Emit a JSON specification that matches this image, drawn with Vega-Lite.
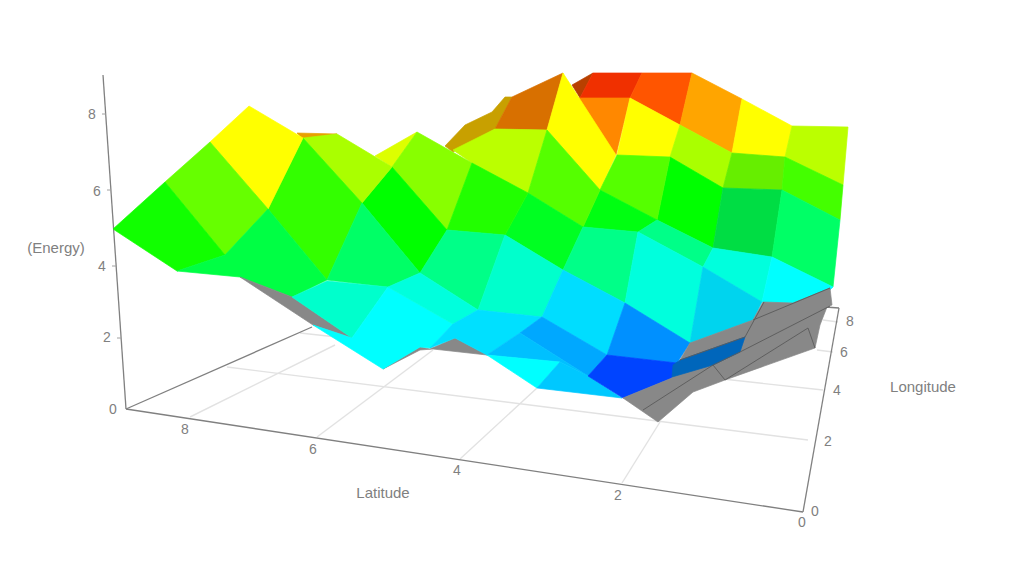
{"$schema":"https://vega.github.io/schema/vega-lite/v6.json","autosize":{"type":"fit","contains":"padding"},"width":1009,"height":565,"padding":0,"background":"white","config":{"view":{"stroke":null}},
"datasets":{
"grid":[
{"x":190,"y":417,"x2":335,"y2":345},
{"x":317,"y":437,"x2":433,"y2":350},
{"x":460,"y":459,"x2":537,"y2":388},
{"x":622,"y":483,"x2":660,"y2":422},
{"x":227,"y":367,"x2":808,"y2":440},
{"x":300,"y":333,"x2":823,"y2":390},
{"x":817,"y":350,"x2":833,"y2":352},
{"x":823,"y":320,"x2":838,"y2":322}
],
"axes":[
{"x":825,"y":307,"x2":839,"y2":308},
{"x":126,"y":409,"x2":803,"y2":512},
{"x":803,"y":512,"x2":839,"y2":308},
{"x":126,"y":409,"x2":312,"y2":327},
{"x":103,"y":75,"x2":126,"y2":409}
],
"ticks":[
{"x":102,"y":114,"x2":106,"y2":114},
{"x":107,"y":190,"x2":111,"y2":190},
{"x":112,"y":266,"x2":116,"y2":266},
{"x":117,"y":338,"x2":121,"y2":338}
],
"polys":[
{"id":"a01","c":"#e8a000","xs":[297,337,303],"ys":[133,134,139]},
{"id":"a02","c":"#c8a000","xs":[445,465,492,505,512,495,453],"ys":[146,125,112,97,97,129,152]},
{"id":"a03","c":"#d87000","xs":[495,512,563,547],"ys":[129,97,73,130]},
{"id":"a04","c":"#b84000","xs":[572,593,580],"ys":[85,73,98]},
{"id":"a05","c":"#f03000","xs":[593,642,630,580],"ys":[73,73,98,98]},
{"id":"a06","c":"#ff5500","xs":[642,692,680,630],"ys":[73,73,125,98]},
{"id":"a07","c":"#ffa500","xs":[692,742,732,680],"ys":[73,99,153,125]},
{"id":"a08","c":"#ff8800","xs":[575,630,616],"ys":[98,98,155]},
{"id":"a09","c":"#ffff00","xs":[563,616,600,547],"ys":[73,155,190,130]},
{"id":"a10","c":"#ffff00","xs":[630,680,670,617],"ys":[98,125,157,155]},
{"id":"a11","c":"#ffff00","xs":[742,792,785,732],"ys":[99,126,157,153]},
{"id":"a12","c":"#bbff00","xs":[792,848,843,785],"ys":[126,127,185,157]},
{"id":"a13","c":"#aaff00","xs":[680,732,723,670],"ys":[125,153,188,157]},
{"id":"a14","c":"#66ee00","xs":[732,785,782,723],"ys":[153,157,190,188]},
{"id":"a15","c":"#44ff00","xs":[785,843,840,782],"ys":[157,185,220,190]},
{"id":"a16","c":"#00ff00","xs":[670,723,713,657],"ys":[157,188,248,220]},
{"id":"a17","c":"#55ff00","xs":[617,670,657,600],"ys":[155,157,220,190]},
{"id":"a18","c":"#00ff11","xs":[600,657,638,583],"ys":[190,220,232,227]},
{"id":"a19","c":"#00dd44","xs":[723,782,772,713],"ys":[188,190,257,248]},
{"id":"a20","c":"#00ff66","xs":[782,840,833,772],"ys":[190,220,287,257]},
{"id":"b01","c":"#ddff00","xs":[375,417,392],"ys":[156,132,167]},
{"id":"b02","c":"#bbff00","xs":[453,495,547,528,472],"ys":[150,129,130,193,163]},
{"id":"b03","c":"#55ff00","xs":[528,547,600,583],"ys":[193,130,190,227]},
{"id":"b04","c":"#00ff22","xs":[528,583,563,505],"ys":[193,227,270,235]},
{"id":"b05","c":"#88ff00","xs":[392,417,472,447],"ys":[167,132,163,230]},
{"id":"b06","c":"#22ff00","xs":[472,528,505,447],"ys":[163,193,235,230]},
{"id":"b07","c":"#00ff00","xs":[362,392,447,420],"ys":[203,167,230,273]},
{"id":"b08","c":"#aaff00","xs":[303,337,392,362],"ys":[138,134,167,203]},
{"id":"b09","c":"#33ff00","xs":[303,362,327,268],"ys":[138,203,280,209]},
{"id":"b10","c":"#ffff00","xs":[210,249,303,268],"ys":[142,106,138,209]},
{"id":"b11","c":"#66ff00","xs":[165,210,268,225],"ys":[182,142,209,255]},
{"id":"b12","c":"#11ff00","xs":[113,165,225,177],"ys":[229,182,255,271]},
{"id":"b13","c":"#00ff44","xs":[177,225,268,327,292,240],"ys":[271,255,209,280,297,277]},
{"id":"c01","c":"#888888","xs":[240,292,352,313],"ys":[277,297,338,325]},
{"id":"c02","c":"#888888","xs":[383,420,430,455,487,433,420],"ys":[369,347,349,338,355,349,350]},
{"id":"d01","c":"#00ff66","xs":[362,420,388,327],"ys":[203,273,287,280]},
{"id":"d02","c":"#00ff88","xs":[447,505,478,420],"ys":[230,235,310,273]},
{"id":"d03","c":"#00ffcc","xs":[505,563,542,478],"ys":[235,270,317,310]},
{"id":"d04","c":"#00ff88","xs":[583,638,625,563],"ys":[227,232,303,270]},
{"id":"d05","c":"#00ff88","xs":[638,657,713,703],"ys":[232,220,248,267]},
{"id":"d06","c":"#00ffdd","xs":[638,703,690,625],"ys":[232,267,343,303]},
{"id":"d07","c":"#00ffdd","xs":[713,772,762,703],"ys":[248,257,302,267]},
{"id":"d08","c":"#00d4ee","xs":[703,762,753,690],"ys":[267,302,320,343]},
{"id":"d09","c":"#00ffff","xs":[772,833,830,793,762],"ys":[257,287,290,303,302]},
{"id":"d10","c":"#00ffcc","xs":[292,327,388,352],"ys":[297,281,287,338]},
{"id":"d11","c":"#00ffff","xs":[313,352,388,453,430,420,383],"ys":[325,338,287,324,348,347,369]},
{"id":"d12","c":"#00ffdd","xs":[388,420,478,453],"ys":[287,273,310,324]},
{"id":"d13","c":"#00ddff","xs":[563,625,607,542],"ys":[270,303,355,317]},
{"id":"d14","c":"#00e0ff","xs":[478,542,520,487,455,430,453],"ys":[310,317,333,355,338,348,324]},
{"id":"d15","c":"#00a8ff","xs":[542,607,588,520],"ys":[317,355,376,333]},
{"id":"d16","c":"#00c0ff","xs":[520,588,560,487],"ys":[333,376,362,355]},
{"id":"d17","c":"#00ffff","xs":[487,560,537],"ys":[355,362,388]},
{"id":"d18","c":"#00c8ff","xs":[560,588,622,537],"ys":[362,376,398,388]},
{"id":"d19","c":"#0090ff","xs":[625,690,677,607],"ys":[303,343,363,355]},
{"id":"d20","c":"#0044ff","xs":[607,677,672,623,588],"ys":[355,363,378,398,376]},
{"id":"e01","c":"#888888","xs":[623,672,680,690,753,763,793,830,832,827,820,815,725,693,658],"ys":[398,378,360,343,320,302,303,288,305,307,325,348,380,392,422]},
{"id":"e02","c":"#0066bb","xs":[673,680,745,740,713,672],"ys":[365,360,337,352,365,377]}
],
"edges":[
{"x":643,"y":410,"x2":713,"y2":365},
{"x":713,"y":365,"x2":740,"y2":352},
{"x":740,"y":352,"x2":830,"y2":306},
{"x":725,"y":380,"x2":808,"y2":328},
{"x":808,"y":328,"x2":815,"y2":348},
{"x":713,"y":365,"x2":725,"y2":380},
{"x":753,"y":320,"x2":830,"y2":288},
{"x":745,"y":337,"x2":764,"y2":302},
{"x":680,"y":360,"x2":745,"y2":337}
],
"labels":[
{"x":92,"y":115,"t":"8"},{"x":97,"y":192,"t":"6"},{"x":102,"y":267,"t":"4"},{"x":107,"y":338,"t":"2"},{"x":113,"y":410,"t":"0"},
{"x":185,"y":430,"t":"8"},{"x":313,"y":450,"t":"6"},{"x":457,"y":471,"t":"4"},{"x":618,"y":496,"t":"2"},{"x":802,"y":523,"t":"0"},
{"x":815,"y":512,"t":"0"},{"x":828,"y":442,"t":"2"},{"x":837,"y":391,"t":"4"},{"x":844,"y":353,"t":"6"},{"x":850,"y":322,"t":"8"}
],
"titles":[
{"x":56,"y":248,"t":"(Energy)"},
{"x":383,"y":493,"t":"Latitude"},
{"x":923,"y":387,"t":"Longitude"}
]},
"encoding":{
"x":{"field":"x","type":"quantitative","scale":{"domain":[0,1009],"nice":false,"zero":false},"axis":null},
"y":{"field":"y","type":"quantitative","scale":{"domain":[565,0],"nice":false,"zero":false},"axis":null}},
"layer":[
{"data":{"name":"grid"},"mark":{"type":"rule","color":"#e2e2e2","strokeWidth":1.4},"encoding":{"x2":{"field":"x2"},"y2":{"field":"y2"}}},
{"data":{"name":"axes"},"mark":{"type":"rule","color":"#808080","strokeWidth":1.3},"encoding":{"x2":{"field":"x2"},"y2":{"field":"y2"}}},
{"data":{"name":"ticks"},"mark":{"type":"rule","color":"#a0a0a0","strokeWidth":1},"encoding":{"x2":{"field":"x2"},"y2":{"field":"y2"}}},
{"data":{"name":"polys"},"transform":[{"flatten":["xs","ys"],"as":["x","y"]},{"window":[{"op":"row_number","as":"n"}]}],
"mark":{"type":"line","strokeWidth":0.7,"interpolate":"linear-closed"},
"encoding":{
"detail":{"field":"id"},
"order":{"field":"n","type":"quantitative"},
"color":{"field":"c","type":"nominal","scale":null},
"fill":{"field":"c","type":"nominal","scale":null}}},
{"data":{"name":"edges"},"mark":{"type":"rule","color":"#5a5a5a","strokeWidth":0.9},"encoding":{"x2":{"field":"x2"},"y2":{"field":"y2"}}},
{"data":{"name":"labels"},"mark":{"type":"text","font":"Liberation Sans","fontSize":14,"color":"#808080","align":"center","baseline":"middle"},"encoding":{"text":{"field":"t","type":"nominal"}}},
{"data":{"name":"titles"},"mark":{"type":"text","font":"Liberation Sans","fontSize":15,"color":"#808080","align":"center","baseline":"middle"},"encoding":{"text":{"field":"t","type":"nominal"}}}
]}
